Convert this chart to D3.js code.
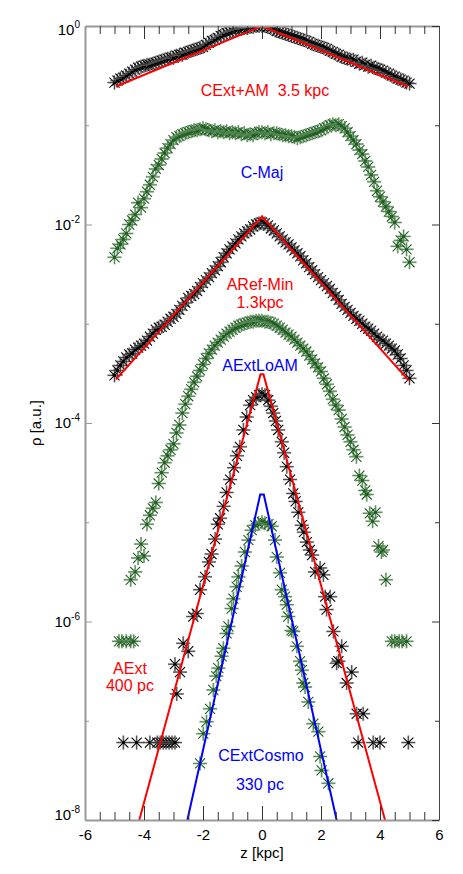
<!DOCTYPE html>
<html>
<head>
<meta charset="utf-8">
<script src="https://cdn.jsdelivr.net/npm/d3@7"></script>
<style>
  body { margin: 0; background: #fff; }
  svg { display: block; font-family: "Liberation Sans", Arial, sans-serif; }
</style>
</head>
<body>
<div class="chart"></div>
<script>
// profiles: [z (kpc), log10 rho]
const cextAM = [[-5.0,-0.57],[-4.9,-0.55],[-4.8,-0.53],[-4.7,-0.52],[-4.6,-0.50],[-4.5,-0.48],[-4.4,-0.46],[-4.3,-0.44],[-4.2,-0.42],[-4.1,-0.41],
  [-4.0,-0.40],[-3.9,-0.39],[-3.8,-0.39],[-3.7,-0.38],[-3.6,-0.37],[-3.5,-0.36],[-3.4,-0.35],[-3.3,-0.34],[-3.2,-0.33],[-3.1,-0.32],
  [-3.0,-0.32],[-2.9,-0.30],[-2.8,-0.29],[-2.7,-0.29],[-2.6,-0.27],[-2.5,-0.26],[-2.4,-0.25],[-2.3,-0.24],[-2.2,-0.23],[-2.1,-0.22],
  [-2.0,-0.21],[-1.9,-0.19],[-1.8,-0.17],[-1.7,-0.15],[-1.6,-0.14],[-1.5,-0.12],[-1.4,-0.10],[-1.3,-0.09],[-1.2,-0.07],[-1.1,-0.06],
  [-1.0,-0.05],[-0.9,-0.04],[-0.8,-0.03],[-0.7,-0.03],[-0.6,-0.02],[-0.5,-0.02],[-0.4,-0.01],[-0.3,-0.01],[-0.2,0.0],[-0.1,0.0],
  [0.0,0.0],[0.1,0.0],[0.2,-0.01],[0.3,-0.02],[0.4,-0.03],[0.5,-0.05],[0.6,-0.06],[0.7,-0.07],[0.8,-0.08],[0.9,-0.09],
  [1.0,-0.10],[1.1,-0.11],[1.2,-0.12],[1.3,-0.13],[1.4,-0.14],[1.5,-0.15],[1.6,-0.16],[1.7,-0.18],[1.8,-0.19],[1.9,-0.20],
  [2.0,-0.21],[2.1,-0.22],[2.2,-0.23],[2.3,-0.25],[2.4,-0.26],[2.5,-0.28],[2.6,-0.29],[2.7,-0.31],[2.8,-0.32],[2.9,-0.33],
  [3.0,-0.34],[3.1,-0.34],[3.2,-0.36],[3.3,-0.38],[3.4,-0.37],[3.5,-0.39],[3.6,-0.41],[3.7,-0.40],[3.8,-0.42],[3.9,-0.43],
  [4.0,-0.44],[4.1,-0.45],[4.2,-0.47],[4.3,-0.48],[4.4,-0.50],[4.5,-0.51],[4.6,-0.53],[4.7,-0.54],[4.8,-0.55],[4.9,-0.57],[5.0,-0.58]];

const cMaj = [[-5.0,-2.33],[-4.9,-2.24],[-4.8,-2.20],[-4.7,-2.15],[-4.6,-2.09],[-4.5,-2.00],[-4.4,-1.96],[-4.3,-1.90],[-4.2,-1.78],[-4.1,-1.83],
  [-4.0,-1.74],[-3.9,-1.67],[-3.8,-1.60],[-3.7,-1.52],[-3.6,-1.44],[-3.5,-1.40],[-3.4,-1.34],[-3.3,-1.28],[-3.2,-1.23],[-3.1,-1.19],
  [-3.0,-1.15],[-2.9,-1.12],[-2.8,-1.11],[-2.7,-1.09],[-2.6,-1.08],[-2.5,-1.07],[-2.4,-1.06],[-2.3,-1.05],[-2.2,-1.05],[-2.1,-1.04],
  [-2.0,-1.03],[-1.9,-1.04],[-1.8,-1.05],[-1.7,-1.06],[-1.6,-1.05],[-1.5,-1.07],[-1.4,-1.06],[-1.3,-1.07],[-1.2,-1.06],[-1.1,-1.08],
  [-1.0,-1.07],[-0.9,-1.08],[-0.8,-1.07],[-0.7,-1.09],[-0.6,-1.08],[-0.5,-1.10],[-0.4,-1.09],[-0.3,-1.10],[-0.2,-1.08],[-0.1,-1.07],
  [0.0,-1.07],[0.1,-1.08],[0.2,-1.07],[0.3,-1.09],[0.4,-1.08],[0.5,-1.08],[0.6,-1.09],[0.7,-1.10],[0.8,-1.10],[0.9,-1.11],
  [1.0,-1.11],[1.1,-1.12],[1.2,-1.13],[1.3,-1.12],[1.4,-1.11],[1.5,-1.10],[1.6,-1.09],[1.7,-1.08],[1.8,-1.07],[1.9,-1.06],
  [2.0,-1.05],[2.1,-1.03],[2.2,-1.02],[2.3,-1.00],[2.4,-0.99],[2.5,-1.00],[2.6,-0.99],[2.7,-1.01],[2.8,-1.03],[2.9,-1.07],
  [3.0,-1.11],[3.1,-1.15],[3.2,-1.19],[3.3,-1.25],[3.4,-1.29],[3.5,-1.36],[3.6,-1.42],[3.7,-1.50],[3.8,-1.57],[3.9,-1.66],
  [4.0,-1.72],[4.1,-1.77],[4.2,-1.82],[4.3,-1.87],[4.4,-1.92],[4.5,-1.98],[4.6,-2.22],[4.7,-2.16],[4.8,-2.12],[4.9,-2.25],[5.0,-2.38]];

const aRefMin = [[-5.0,-3.52],[-4.9,-3.47],[-4.8,-3.42],[-4.7,-3.38],[-4.6,-3.34],[-4.5,-3.31],[-4.4,-3.30],[-4.3,-3.26],[-4.2,-3.24],[-4.1,-3.22],
  [-4.0,-3.20],[-3.9,-3.17],[-3.8,-3.13],[-3.7,-3.10],[-3.6,-3.06],[-3.5,-3.04],[-3.4,-3.03],[-3.3,-3.01],[-3.2,-2.98],[-3.1,-2.95],
  [-3.0,-2.93],[-2.9,-2.90],[-2.8,-2.86],[-2.7,-2.82],[-2.6,-2.79],[-2.5,-2.74],[-2.4,-2.72],[-2.3,-2.70],[-2.2,-2.67],[-2.1,-2.63],
  [-2.0,-2.59],[-1.9,-2.56],[-1.8,-2.53],[-1.7,-2.49],[-1.6,-2.46],[-1.5,-2.42],[-1.4,-2.38],[-1.3,-2.33],[-1.2,-2.29],[-1.1,-2.25],
  [-1.0,-2.22],[-0.9,-2.19],[-0.8,-2.15],[-0.7,-2.12],[-0.6,-2.09],[-0.5,-2.07],[-0.4,-2.05],[-0.3,-2.02],[-0.2,-2.00],[-0.1,-1.99],
  [0.0,-1.98],[0.1,-1.99],[0.2,-2.01],[0.3,-2.04],[0.4,-2.06],[0.5,-2.09],[0.6,-2.12],[0.7,-2.15],[0.8,-2.18],[0.9,-2.20],
  [1.0,-2.23],[1.1,-2.26],[1.2,-2.29],[1.3,-2.32],[1.4,-2.36],[1.5,-2.39],[1.6,-2.43],[1.7,-2.46],[1.8,-2.50],[1.9,-2.53],
  [2.0,-2.56],[2.1,-2.59],[2.2,-2.62],[2.3,-2.65],[2.4,-2.69],[2.5,-2.72],[2.6,-2.76],[2.7,-2.80],[2.8,-2.83],[2.9,-2.86],
  [3.0,-2.89],[3.1,-2.92],[3.2,-2.95],[3.3,-2.97],[3.4,-3.00],[3.5,-3.03],[3.6,-3.05],[3.7,-3.07],[3.8,-3.10],[3.9,-3.13],
  [4.0,-3.16],[4.1,-3.17],[4.2,-3.20],[4.3,-3.22],[4.4,-3.25],[4.5,-3.27],[4.6,-3.31],[4.7,-3.35],[4.8,-3.42],[4.9,-3.47],[5.0,-3.55]];

const aExtLoAM = [[-4.85,-6.20],[-4.75,-6.20],[-4.6,-6.20],[-4.45,-6.20],[-4.35,-6.20],
  [-4.45,-5.58],[-4.3,-5.50],[-4.2,-5.36],[-4.1,-5.22],[-4.0,-5.34],[-3.9,-5.02],[-3.8,-4.93],[-3.7,-4.86],[-3.6,-4.80],[-3.5,-4.61],
  [-3.4,-4.50],[-3.3,-4.40],[-3.2,-4.33],[-3.1,-4.27],[-3.0,-4.21],[-2.9,-4.10],[-2.8,-4.02],[-2.7,-3.90],[-2.6,-3.81],[-2.5,-3.73],
  [-2.4,-3.66],[-2.3,-3.59],[-2.2,-3.53],[-2.1,-3.47],[-2.0,-3.41],[-1.9,-3.35],[-1.8,-3.30],[-1.7,-3.26],[-1.6,-3.22],[-1.5,-3.19],
  [-1.4,-3.16],[-1.3,-3.13],[-1.2,-3.10],[-1.1,-3.08],[-1.0,-3.06],[-0.9,-3.04],[-0.8,-3.02],[-0.7,-3.01],[-0.6,-3.00],[-0.5,-2.99],
  [-0.4,-2.98],[-0.3,-2.98],[-0.2,-2.97],[-0.1,-2.97],[0.0,-2.97],[0.1,-2.98],[0.2,-2.98],[0.3,-2.99],[0.4,-3.00],[0.5,-3.02],
  [0.6,-3.04],[0.7,-3.06],[0.8,-3.09],[0.9,-3.11],[1.0,-3.13],[1.1,-3.16],[1.2,-3.19],[1.3,-3.22],[1.4,-3.25],[1.5,-3.28],
  [1.6,-3.32],[1.7,-3.36],[1.8,-3.40],[1.9,-3.44],[2.0,-3.48],[2.1,-3.55],[2.2,-3.61],[2.3,-3.68],[2.4,-3.76],[2.5,-3.82],
  [2.6,-3.87],[2.7,-3.96],[2.8,-4.04],[2.9,-4.12],[3.0,-4.19],[3.1,-4.27],[3.2,-4.34],[3.3,-4.53],[3.4,-4.58],[3.5,-4.68],
  [3.55,-4.72],[3.65,-4.91],[3.75,-4.99],[3.85,-4.90],[3.95,-5.24],[4.05,-5.30],[4.1,-5.28],[4.2,-5.58],
  [4.4,-6.20],[4.5,-6.20],[4.65,-6.20],[4.75,-6.20],[4.9,-6.20]];

const aExt = [[-4.7,-7.22],[-4.25,-7.22],[-3.8,-7.22],[-3.55,-7.22],[-3.45,-7.22],[-3.35,-7.22],[-3.25,-7.22],[-3.15,-7.22],[-3.05,-7.22],[-2.95,-7.22],
  [-2.89,-6.73],[-2.95,-6.43],[-2.78,-6.51],[-2.67,-6.22],[-2.50,-6.30],[-2.33,-5.95],[-2.21,-5.92],[-2.10,-5.68],[-1.93,-5.55],[-1.80,-5.40],
  [-1.71,-5.32],[-1.59,-5.17],[-1.50,-5.02],[-1.42,-4.96],[-1.30,-4.84],[-1.20,-4.70],[-1.08,-4.57],[-0.95,-4.45],[-0.85,-4.33],[-0.75,-4.24],
  [-0.63,-4.07],[-0.52,-3.94],[-0.40,-3.82],[-0.30,-3.77],[-0.20,-3.74],[-0.10,-3.72],[0.0,-3.71],[0.10,-3.72],[0.21,-3.77],[0.30,-3.83],
  [0.38,-3.90],[0.47,-3.98],[0.55,-4.07],[0.67,-4.19],[0.75,-4.30],[0.84,-4.44],[0.95,-4.57],[1.06,-4.71],[1.14,-4.79],[1.23,-4.90],
  [1.35,-5.03],[1.42,-5.10],[1.52,-5.20],[1.62,-5.28],[1.70,-5.33],[1.80,-5.50],[1.97,-5.46],[2.08,-5.53],[2.14,-5.75],[2.19,-5.88],
  [2.31,-5.75],[2.42,-6.10],[2.53,-6.42],[2.59,-6.40],[2.70,-6.25],[2.87,-6.62],[3.04,-6.51],[3.21,-6.93],[3.43,-6.93],
  [3.26,-7.22],[3.77,-7.22],[4.0,-7.22],[4.96,-7.22]];

const cExtCosmo = [[-2.10,-7.43],[-1.99,-7.13],[-1.88,-7.01],[-1.76,-6.88],[-1.65,-6.69],[-1.55,-6.55],[-1.48,-6.47],[-1.37,-6.35],[-1.31,-6.27],[-1.20,-6.12],
  [-1.14,-6.05],[-1.03,-5.87],[-0.97,-5.77],[-0.86,-5.65],[-0.80,-5.55],[-0.69,-5.44],[-0.58,-5.30],[-0.46,-5.18],[-0.35,-5.08],[-0.23,-5.03],
  [-0.12,-5.01],[0.0,-5.00],[0.10,-5.01],[0.22,-5.02],[0.33,-5.04],[0.44,-5.18],[0.50,-5.35],[0.61,-5.51],[0.67,-5.68],[0.78,-5.75],
  [0.84,-5.83],[0.89,-5.95],[1.00,-6.09],[1.06,-6.10],[1.18,-6.25],[1.29,-6.40],[1.35,-6.49],[1.40,-6.62],[1.46,-6.66],[1.57,-6.81],
  [1.74,-7.03],[1.91,-7.11],[1.97,-7.36],[2.02,-7.50],[2.25,-7.63]];

// exponential fits: vertices [z, log10 rho]
const fitCExtAM = [[-4.95,-0.61],[0,0],[4.95,-0.61]];
const fitARefMin = [[-4.95,-3.56],[0,-1.92],[4.97,-3.57]];
const fitAExt = [[-4.16,-8],[-0.05,-3.51],[0.05,-3.51],[4.17,-8]];
const fitCExtCosmo = [[-2.53,-8],[-0.06,-4.72],[0.06,-4.72],[2.53,-8]];

const xMajor = [-6, -4, -2, 0, 2, 4, 6];
const xMinor = [-5.5,-5,-4.5,-3.5,-3,-2.5,-1.5,-1,-0.5,0.5,1,1.5,2.5,3,3.5,4.5,5,5.5];
const yMajorExp = [0, -2, -4, -6, -8];
const yMinorExp = [-1, -3, -5, -7];

const width = 463, height = 874;
const plot = {left: 85, right: 439, top: 26, bottom: 820};

const svg = d3.select(".chart").append("svg")
    .attr("width", width)
    .attr("height", height);

const x = d3.scaleLinear().domain([-6, 6]).range([plot.left, plot.right]);
const y = d3.scaleLog().domain([1e-8, 1]).range([plot.bottom, plot.top]);

svg.append("clipPath").attr("id", "clip")
  .append("rect")
    .attr("x", plot.left).attr("y", plot.top)
    .attr("width", plot.right - plot.left).attr("height", plot.bottom - plot.top);

const body = svg.append("g").attr("clip-path", "url(#clip)");

// asterisk marker
const r = 7, a = r * 0.72;
const plusPath = `M${-r},0H${r}M0,${-r}V${r}`;
const crossPath = `M${-a},${-a}L${a},${a}M${-a},${a}L${a},${-a}`;

function drawPoints(data, dark, light) {
  let g = body.append("g");
  let m = g.selectAll("g").data(data).enter().append("g")
      .attr("transform", d => `translate(${x(d[0])},${y(Math.pow(10, d[1]))})`);
  m.append("path").attr("d", plusPath)
      .attr("stroke", light).attr("stroke-width", 2).attr("stroke-opacity", 0.7).attr("fill", "none");
  m.append("path").attr("d", crossPath)
      .attr("stroke", dark).attr("stroke-width", 1.1).attr("fill", "none");
  m.append("path").attr("d", plusPath)
      .attr("stroke", dark).attr("stroke-width", 0.7).attr("stroke-opacity", 0.85).attr("fill", "none");
  m.append("circle").attr("r", 1.4).attr("fill", dark);
}

const black = "#000000", blackLight = "#8c8c8c";
const green = "#1e5e1e", greenLight = "#86a886";

drawPoints(cMaj, green, greenLight);
drawPoints(aExtLoAM, green, greenLight);
drawPoints(cExtCosmo, green, greenLight);
drawPoints(cextAM, black, blackLight);
drawPoints(aRefMin, black, blackLight);
drawPoints(aExt, black, blackLight);

const line = d3.line()
    .x(d => x(d[0]))
    .y(d => y(Math.pow(10, d[1])));

[[fitCExtAM, "#ff0000"], [fitARefMin, "#ff0000"], [fitAExt, "#ff0000"], [fitCExtCosmo, "#0000ff"]]
  .forEach(([d, c]) => {
    body.append("path")
        .attr("d", line(d))
        .attr("fill", "none")
        .attr("stroke", c)
        .attr("stroke-width", 2)
        .attr("stroke-linejoin", "miter");
  });

// axes
const tickColor = "#333";
function styleAxis(g, color, w) {
  g.selectAll(".domain").attr("stroke", color).attr("stroke-width", w);
  g.selectAll(".tick line").attr("stroke", tickColor);
}

let gx = svg.append("g").attr("transform", `translate(0,${plot.bottom})`)
    .call(d3.axisBottom(x).tickValues(xMajor).tickSize(-14).tickSizeOuter(0).tickPadding(9).tickFormat(d => String(d)));
gx.selectAll("text").attr("font-size", 15).attr("fill", "#000").attr("font-family", "Liberation Sans, Arial, sans-serif");
styleAxis(gx, "#999", 2);
svg.append("g").attr("transform", `translate(0,${plot.bottom})`)
    .call(d3.axisBottom(x).tickValues(xMinor).tickSize(-8).tickSizeOuter(0).tickFormat(""))
    .call(g => { g.select(".domain").remove(); g.selectAll("line").attr("stroke", tickColor); });

let gxt = svg.append("g").attr("transform", `translate(0,${plot.top})`)
    .call(d3.axisTop(x).tickValues(xMajor).tickSize(-13).tickSizeOuter(0).tickFormat(""));
styleAxis(gxt, "#999", 2);
svg.append("g").attr("transform", `translate(0,${plot.top})`)
    .call(d3.axisTop(x).tickValues(xMinor).tickSize(-8).tickSizeOuter(0).tickFormat(""))
    .call(g => { g.select(".domain").remove(); g.selectAll("line").attr("stroke", tickColor); });

const yMajor = yMajorExp.map(e => Math.pow(10, e));
const yMinor = yMinorExp.map(e => Math.pow(10, e));

let gy = svg.append("g").attr("transform", `translate(${plot.left},0)`)
    .call(d3.axisLeft(y).tickValues(yMajor).tickSize(-7).tickSizeOuter(0).tickFormat(""));
styleAxis(gy, "#999", 2);
gy.selectAll(".tick line").attr("stroke", "#999");
svg.append("g").attr("transform", `translate(${plot.left},0)`)
    .call(d3.axisLeft(y).tickValues(yMinor).tickSize(-4).tickSizeOuter(0).tickFormat(""))
    .call(g => { g.select(".domain").remove(); g.selectAll("line").attr("stroke", "#999"); });

let gyr = svg.append("g").attr("transform", `translate(${plot.right},0)`)
    .call(d3.axisRight(y).tickValues(yMajor).tickSize(-7).tickSizeOuter(0).tickFormat(""));
styleAxis(gyr, "#444", 1);
svg.append("g").attr("transform", `translate(${plot.right},0)`)
    .call(d3.axisRight(y).tickValues(yMinor).tickSize(-4).tickSizeOuter(0).tickFormat(""))
    .call(g => { g.select(".domain").remove(); g.selectAll("line").attr("stroke", tickColor); });

// y tick labels 10^n
yMajorExp.forEach((e, i) => {
  let shift = i === 0 ? 4 : (i === yMajorExp.length - 1 ? -5 : 0);
  let t = svg.append("text")
      .attr("x", plot.left - 5)
      .attr("y", y(Math.pow(10, e)) + 5 + shift)
      .attr("text-anchor", "end")
      .attr("font-size", 15)
      .attr("fill", "#000");
  t.append("tspan").text("10");
  t.append("tspan").attr("font-size", 10).attr("dy", -7).text(String(e));
});

// axis titles
svg.append("text")
    .attr("x", x(0))
    .attr("y", 858)
    .attr("text-anchor", "middle")
    .attr("font-size", 15)
    .text("z [kpc]");

svg.append("text")
    .attr("transform", `translate(41,${(plot.top + plot.bottom) / 2}) rotate(-90)`)
    .attr("text-anchor", "middle")
    .attr("font-size", 15)
    .text("ρ [a.u.]");

// run labels
const labels = [
  ["CExt+AM  3.5 kpc", "#ff0000", 265, 96],
  ["C-Maj", "#0000ff", 262, 178],
  ["ARef-Min", "#ff0000", 260, 290],
  ["1.3kpc", "#ff0000", 260, 308],
  ["AExtLoAM", "#0000ff", 260, 371],
  ["AExt", "#ff0000", 130, 674],
  ["400 pc", "#ff0000", 130, 691],
  ["CExtCosmo", "#0000ff", 261, 761],
  ["330 pc", "#0000ff", 260, 790]
];
labels.forEach(([s, c, lx, ly]) => {
  svg.append("text")
      .attr("x", lx).attr("y", ly)
      .attr("text-anchor", "middle")
      .attr("font-size", 16)
      .attr("fill", c)
      .style("white-space", "pre")
      .text(s);
});
</script>
</body>
</html>
